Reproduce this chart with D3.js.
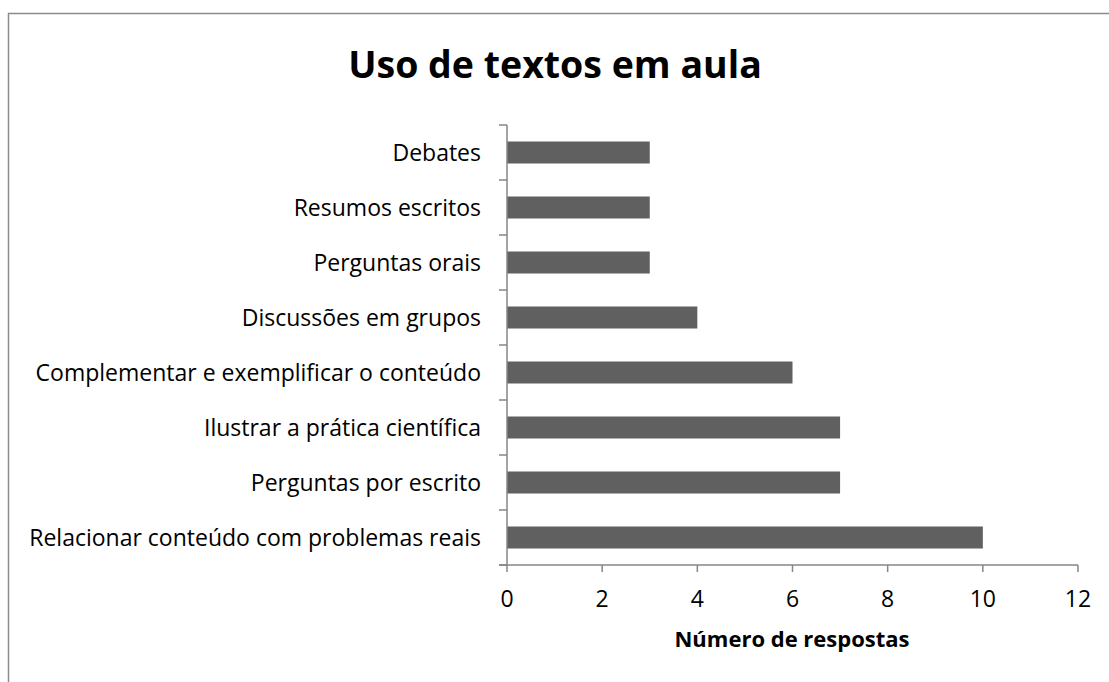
<!DOCTYPE html>
<html><head><meta charset="utf-8">
<script src="https://cdn.jsdelivr.net/npm/d3@7"></script>
<style>body{margin:0;background:#fff}svg{display:block}</style>
</head><body>
<svg id="c" width="1109" height="682"></svg>
<script>
const categories = ["Debates","Resumos escritos","Perguntas orais","Discussões em grupos","Complementar e exemplificar o conteúdo","Ilustrar a prática científica","Perguntas por escrito","Relacionar conteúdo com problemas reais"];
const values = [3,3,3,4,6,7,7,10];
const xTicks = [0,2,4,6,8,10,12];
const title = "Uso de textos em aula";
const xTitle = "Número de respostas";

const svg = d3.select("#c");
const font = "'Open Sans', Lato, sans-serif";
const axisColor = "#868686";

// chart border
svg.append("rect").attr("x",8.5).attr("y",13.5).attr("width",1200).attr("height",800)
  .attr("fill","none").attr("stroke","#8c8c8c").attr("stroke-width",1.5);

const x = d3.scaleLinear().domain([0,12]).range([507,1078]);
const y = d3.scaleBand().domain(categories).range([125,565]).paddingInner(0.6).paddingOuter(0.3);

// bars
svg.append("g").selectAll("rect").data(categories).join("rect")
  .attr("x", x(0)).attr("y", d=>y(d)).attr("height", y.bandwidth())
  .attr("width", (d,i)=>x(values[i])-x(0)).attr("fill","#606060");

// y axis line and ticks (at band boundaries)
const bounds = d3.range(categories.length+1).map(i=>125 + i*(440/categories.length));
const ga = svg.append("g").attr("stroke",axisColor).attr("stroke-width",1.5);
ga.append("line").attr("x1",507).attr("x2",507).attr("y1",125).attr("y2",565);
ga.selectAll("line.yt").data(bounds).join("line").attr("class","yt")
  .attr("x1",499).attr("x2",507).attr("y1",d=>d).attr("y2",d=>d);
ga.append("line").attr("x1",499).attr("x2",1078).attr("y1",565).attr("y2",565);
ga.selectAll("line.xt").data(xTicks).join("line").attr("class","xt")
  .attr("x1",d=>x(d)).attr("x2",d=>x(d)).attr("y1",565).attr("y2",572);

// x tick labels
svg.append("g").selectAll("text").data(xTicks).join("text")
  .attr("x",d=>x(d)).attr("y",607).attr("text-anchor","middle")
  .attr("font-family",font).attr("font-size",23).attr("fill","#000").text(d=>d);

// category labels
svg.append("g").selectAll("text").data(categories).join("text")
  .attr("x",481).attr("y",d=>y(d)+y.bandwidth()/2).attr("dy","0.35em").attr("text-anchor","end")
  .attr("font-family",font).attr("font-size",23).attr("fill","#000").text(d=>d);

// titles
svg.append("text").attr("x",555).attr("y",78).attr("text-anchor","middle")
  .attr("font-family",font).attr("font-weight","bold").attr("font-size",37.5).text(title);
svg.append("text").attr("x",792).attr("y",647).attr("text-anchor","middle")
  .attr("font-family",font).attr("font-weight","bold").attr("font-size",22).text(xTitle);
</script>
</body></html>
